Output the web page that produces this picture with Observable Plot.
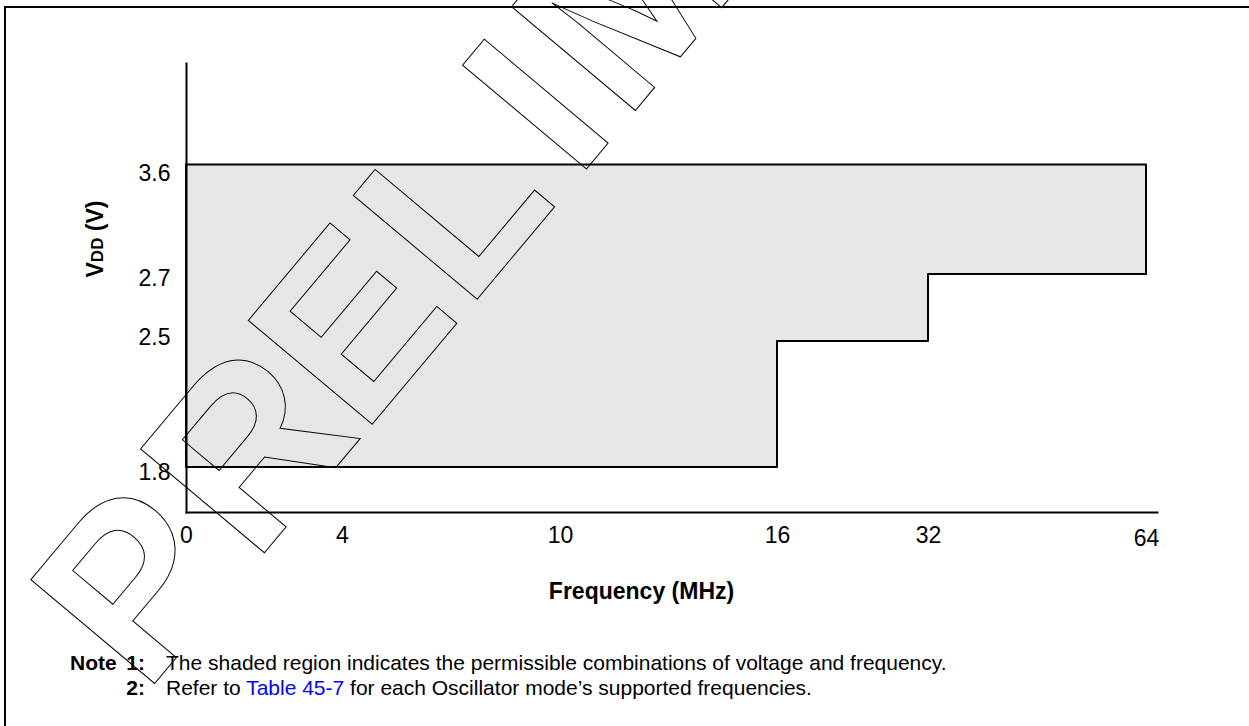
<!DOCTYPE html>
<html>
<head>
<meta charset="utf-8">
<script src="https://cdn.jsdelivr.net/npm/d3@7"></script>
<script src="https://cdn.jsdelivr.net/npm/@observablehq/plot@0.6"></script>
<style>
  html, body { margin: 0; padding: 0; background: #fff; overflow: hidden; width: 1249px; height: 726px; }
  #frame { position: absolute; left: 4px; top: 6px; width: 2000px; height: 2000px;
           border-left: 2px solid #000; border-top: 2px solid #000; pointer-events: none; z-index: 5; }
  #chart { position: relative; height: 652px; }
  #notes { position: relative; height: 74px; font-family: "Liberation Sans", Arial, sans-serif;
           font-size: 21px; line-height: 21px; color: #000; }
  #notes div { position: absolute; white-space: nowrap; }
  .b { font-weight: bold; }
  .link { color: #0000ff; }
</style>
</head>
<body>
<div id="frame"></div>
<div id="chart"></div>
<div id="notes">
  <div class="b" style="left:70px; top:0px;">Note</div>
  <div class="b" style="left:120px; width:25px; text-align:right; top:0px;">1:</div>
  <div style="left:166px; top:0px;">The shaded region indicates the permissible combinations of voltage and frequency.</div>
  <div class="b" style="left:120px; width:25px; text-align:right; top:25px;">2:</div>
  <div style="left:166px; top:25px;">Refer to <span class="link">Table 45-7</span> for each Oscillator mode’s supported frequencies.</div>
</div>
<script>
// ---- data ----
const freqTicks = [0, 4, 10, 16, 32, 64];          // MHz tick labels
const vddTicks = [1.8, 2.5, 2.7, 3.6];             // V tick labels
const stepFreq = [0, 16, 32, 64];                  // frequency breakpoints
const stepVddMin = [1.8, 2.5, 2.7, 2.7];           // minimum VDD from each breakpoint
const vddMax = 3.6;                                // maximum VDD
const xTitle = "Frequency (MHz)";
const yTitle = "VDD (V)";
const watermark = "PRELIMINARY";

const region = stepFreq.map((f, i) => ({f, lo: stepVddMin[i], hi: vddMax}));

// ---- layout (non-data) ----
const xRange = [186, 342, 560, 777, 928, 1146];
const yRange = [467, 341, 274, 164.5];
const yLabelShift = [5, -3.5, 4.5, 8.5];
const loweredX = new Set([64]);
const watermarkKerning = [0, 3, -13, -4.6, 15.5]; // per-letter nudges for P R E L I, rest follow
const font = "'Liberation Sans', Arial, Helvetica, sans-serif";

const plot = Plot.plot({
  width: 1249,
  height: 652,
  marginLeft: 186,
  marginRight: 92,
  marginTop: 63,
  marginBottom: 140,
  style: {fontFamily: font, overflow: "visible", background: "transparent", color: "#000"},
  x: {type: "linear", domain: freqTicks, range: xRange, label: null},
  y: {type: "linear", domain: vddTicks, range: yRange, label: null},
  marks: [
    Plot.areaY(region, {x: "f", y1: "lo", y2: "hi", curve: "step-after",
      fill: "#e6e6e6", stroke: "#000", strokeWidth: 2}),
    Plot.frame({anchor: "left", stroke: "#000", strokeWidth: 2}),
    Plot.frame({anchor: "bottom", stroke: "#000", strokeWidth: 2}),
    Plot.axisX(freqTicks.filter(t => !loweredX.has(t)), {tickSize: 0, tickPadding: 14, fontSize: 23, label: null}),
    Plot.axisX(freqTicks.filter(t => loweredX.has(t)), {tickSize: 0, tickPadding: 17, fontSize: 23, label: null}),
    ...vddTicks.map((t, i) => Plot.axisY([t], {tickSize: 0, tickPadding: 16, fontSize: 23, dy: yLabelShift[i], label: null})),
    Plot.text([xTitle], {text: d => d, frameAnchor: "bottom-left", dx: 455, dy: 86,
      textAnchor: "middle", lineAnchor: "bottom", fontWeight: "bold", fontSize: 23}),
    Plot.text([yTitle], {text: d => d, frameAnchor: "top-left", dx: -84, dy: 175.5, rotate: -90,
      textAnchor: "middle", lineAnchor: "bottom", fontWeight: "bold", fontSize: 23}),
    Plot.text([watermark], {text: d => d, frameAnchor: "top-left", dx: -42, dy: 632, rotate: -50,
      textAnchor: "start", lineAnchor: "bottom", fontWeight: "bold", fontSize: 235,
      fill: "none", stroke: "#000", strokeWidth: 1, strokeLinejoin: "miter"})
  ]
});

document.getElementById("chart").appendChild(plot);

// Post-process text styling: subscript-like DD and watermark tracking
const SVGNS = "http://www.w3.org/2000/svg";
for (const t of plot.querySelectorAll("text")) {
  if (t.textContent === yTitle) {
    t.textContent = "";
    const parts = [["V", null], ["DD", "17px"], [" (V)", null]];
    for (const [s, size] of parts) {
      const ts = document.createElementNS(SVGNS, "tspan");
      ts.textContent = s;
      if (size) ts.setAttribute("font-size", size);
      t.appendChild(ts);
    }
  } else if (t.textContent === watermark) {
    t.setAttribute("letter-spacing", "11px");
    t.textContent = "";
    const chars = Array.from(watermark);
    const n = watermarkKerning.length;
    chars.slice(0, n).forEach((c, i) => {
      const ts = document.createElementNS(SVGNS, "tspan");
      ts.textContent = c;
      if (watermarkKerning[i]) ts.setAttribute("dx", watermarkKerning[i]);
      t.appendChild(ts);
    });
    const rest = document.createElementNS(SVGNS, "tspan");
    rest.textContent = chars.slice(n).join("");
    t.appendChild(rest);
  }
}
</script>
</body>
</html>
